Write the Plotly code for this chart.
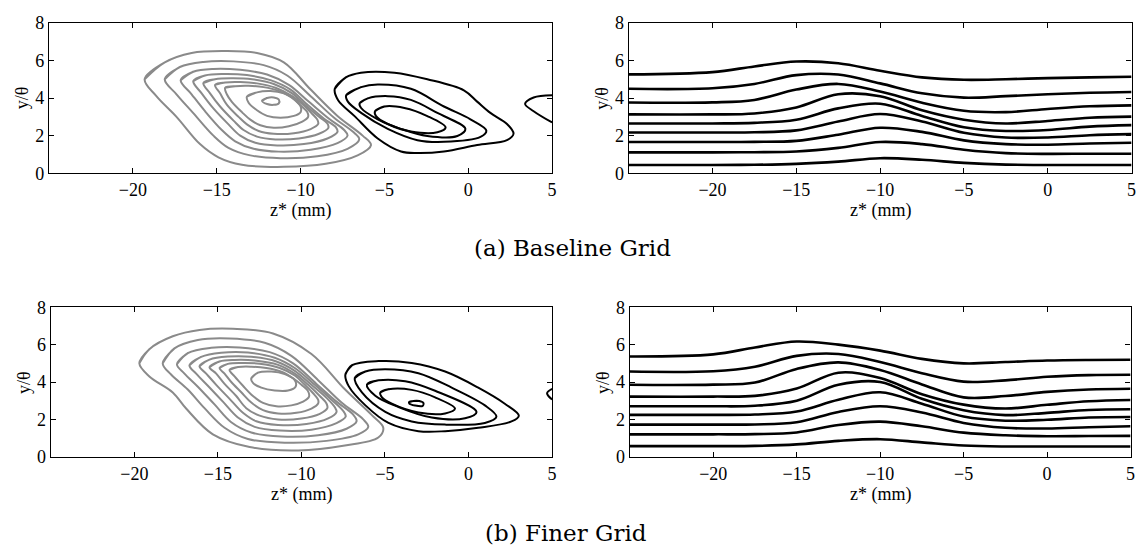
import plotly.graph_objects as go

W, H = 1147, 560

# ---------------------------------------------------------------------------
# Streamwise velocity contour lines (right panels): y/theta sampled at z* stations
# ---------------------------------------------------------------------------
Z_STATIONS = [-25, -20, -17.5, -15, -12.5, -10, -7.5, -5, -2.5, 0, 2.5, 5]

base_u_lines = [
    [5.26, 5.38, 5.68, 5.94, 5.85, 5.45, 5.10, 4.97, 5.00, 5.06, 5.10, 5.13],
    [4.49, 4.52, 4.75, 5.22, 5.25, 4.78, 4.25, 4.02, 4.10, 4.20, 4.28, 4.32],
    [3.76, 3.77, 3.90, 4.45, 4.75, 4.35, 3.75, 3.32, 3.25, 3.42, 3.56, 3.61],
    [3.13, 3.13, 3.18, 3.50, 4.20, 4.10, 3.35, 2.85, 2.65, 2.78, 2.95, 3.01],
    [2.65, 2.65, 2.68, 2.85, 3.45, 3.70, 3.05, 2.45, 2.25, 2.30, 2.48, 2.56],
    [2.17, 2.17, 2.18, 2.28, 2.75, 3.15, 2.75, 2.15, 1.90, 1.90, 2.02, 2.08],
    [1.66, 1.66, 1.67, 1.72, 2.05, 2.42, 2.20, 1.75, 1.55, 1.52, 1.58, 1.62],
    [1.11, 1.11, 1.12, 1.16, 1.35, 1.66, 1.55, 1.25, 1.07, 1.03, 1.04, 1.04],
    [0.44, 0.44, 0.45, 0.50, 0.62, 0.80, 0.72, 0.55, 0.46, 0.44, 0.44, 0.44],
]

fine_u_lines = [
    [5.37, 5.48, 5.85, 6.17, 6.00, 5.68, 5.24, 5.00, 5.07, 5.15, 5.18, 5.19],
    [4.56, 4.58, 4.82, 5.40, 5.50, 5.07, 4.47, 4.02, 4.09, 4.28, 4.37, 4.39],
    [3.85, 3.86, 3.97, 4.70, 5.05, 4.64, 3.87, 3.18, 3.25, 3.47, 3.60, 3.64],
    [3.22, 3.22, 3.26, 3.65, 4.50, 4.21, 3.35, 2.79, 2.58, 2.78, 2.97, 3.04],
    [2.70, 2.70, 2.73, 3.00, 3.85, 4.00, 3.10, 2.49, 2.23, 2.35, 2.50, 2.54],
    [2.24, 2.24, 2.26, 2.42, 3.05, 3.45, 2.84, 2.15, 1.93, 1.98, 2.10, 2.13],
    [1.72, 1.72, 1.73, 1.85, 2.40, 2.70, 2.37, 1.81, 1.55, 1.51, 1.58, 1.63],
    [1.20, 1.20, 1.21, 1.30, 1.70, 1.88, 1.63, 1.29, 1.15, 1.10, 1.11, 1.12],
    [0.57, 0.57, 0.58, 0.66, 0.85, 0.94, 0.77, 0.60, 0.55, 0.55, 0.55, 0.55],
]

# ---------------------------------------------------------------------------
# Streamwise vorticity contours (left panels): closed rings as (z*, y/theta)
# ---------------------------------------------------------------------------
base_gray_rings = [
    [(-19.3, 5.0), (-18.1, 5.9), (-16.5, 6.4), (-14.5, 6.5), (-12.6, 6.4), (-11.0, 5.9),
     (-9.4, 4.45), (-7.8, 3.05), (-6.3, 2.0), (-5.8, 1.5), (-6.6, 0.95), (-8.5, 0.5),
     (-11.0, 0.34), (-13.5, 0.45), (-14.9, 0.85), (-16.0, 1.55), (-17.4, 3.0), (-18.6, 4.1)],
    [(-18.1, 5.0), (-17.2, 5.65), (-15.8, 5.92), (-14.0, 5.95), (-12.2, 5.75), (-10.8, 5.2),
     (-9.4, 4.1), (-8.0, 2.95), (-6.8, 2.15), (-6.5, 1.8), (-7.2, 1.3), (-9.0, 0.9),
     (-11.2, 0.8), (-13.0, 0.95), (-14.3, 1.35), (-15.2, 2.0), (-16.4, 3.2), (-17.4, 4.2)],
    [(-17.15, 4.95), (-16.4, 5.4), (-15.2, 5.55), (-13.6, 5.5), (-12.0, 5.25), (-10.7, 4.7),
     (-9.5, 3.8), (-8.3, 2.9), (-7.4, 2.3), (-7.2, 2.0), (-7.8, 1.6), (-9.4, 1.25),
     (-11.3, 1.15), (-12.8, 1.3), (-13.9, 1.7), (-14.7, 2.3), (-15.7, 3.3), (-16.5, 4.2)],
    [(-16.4, 4.9), (-15.7, 5.2), (-14.6, 5.28), (-13.2, 5.22), (-11.8, 4.95), (-10.6, 4.45),
     (-9.6, 3.65), (-8.6, 2.9), (-7.9, 2.45), (-7.8, 2.2), (-8.4, 1.85), (-9.8, 1.55),
     (-11.4, 1.48), (-12.7, 1.62), (-13.6, 2.0), (-14.3, 2.6), (-15.2, 3.45), (-15.9, 4.25)],
    [(-15.8, 4.8), (-15.1, 5.0), (-14.1, 5.05), (-12.9, 5.0), (-11.6, 4.75), (-10.5, 4.25),
     (-9.7, 3.6), (-8.9, 3.0), (-8.4, 2.65), (-8.35, 2.4), (-8.9, 2.1), (-10.1, 1.85),
     (-11.5, 1.8), (-12.6, 1.95), (-13.4, 2.3), (-14.0, 2.8), (-14.8, 3.55), (-15.4, 4.25)],
    [(-15.1, 4.7), (-14.5, 4.83), (-13.6, 4.85), (-12.6, 4.78), (-11.5, 4.55), (-10.5, 4.1),
     (-9.8, 3.6), (-9.3, 3.15), (-9.0, 2.85), (-8.95, 2.62), (-9.4, 2.35), (-10.4, 2.13),
     (-11.6, 2.1), (-12.5, 2.25), (-13.2, 2.6), (-13.7, 3.0), (-14.4, 3.65), (-14.8, 4.25)],
    [(-14.5, 4.55), (-13.9, 4.63), (-13.1, 4.65), (-12.2, 4.58), (-11.3, 4.38), (-10.5, 4.0),
     (-10.0, 3.6), (-9.6, 3.25), (-9.55, 3.0), (-9.9, 2.75), (-10.7, 2.5), (-11.6, 2.42),
     (-12.4, 2.55), (-13.0, 2.85), (-13.5, 3.25), (-14.1, 3.8), (-14.4, 4.2)],
    [(-13.2, 4.07), (-12.6, 4.3), (-11.8, 4.37), (-11.0, 4.25), (-10.4, 3.95), (-10.0, 3.55),
     (-10.0, 3.25), (-10.4, 3.05), (-11.2, 2.95), (-12.0, 3.05), (-12.6, 3.35), (-13.1, 3.75)],
    [(-12.3, 3.85), (-12.0, 4.0), (-11.6, 4.03), (-11.3, 3.92), (-11.3, 3.72), (-11.6, 3.64),
     (-12.0, 3.68)],
]

base_black_rings = [
    [(-7.96, 4.49), (-7.3, 5.1), (-6.4, 5.35), (-4.4, 5.35), (-2.44, 5.0), (-0.26, 4.41),
     (0.53, 3.81), (1.32, 3.21), (2.31, 2.62), (2.7, 2.1), (2.31, 1.76), (0.53, 1.5),
     (-1.45, 1.16), (-3.03, 1.08), (-4.01, 1.16), (-5.4, 1.85), (-6.78, 3.04), (-7.77, 3.9)],
    [(-7.28, 4.15), (-6.39, 4.58), (-5.4, 4.72), (-3.42, 4.49), (-1.45, 3.55), (0.13, 2.87),
     (1.08, 2.27), (0.73, 1.93), (-1.45, 1.67), (-3.03, 1.76), (-4.8, 2.36), (-6.39, 3.21),
     (-7.18, 3.81)],
    [(-6.48, 3.72), (-5.99, 3.98), (-4.8, 4.1), (-3.42, 3.9), (-1.84, 3.21), (-0.17, 2.36),
     (-0.65, 1.98), (-2.44, 1.98), (-4.01, 2.36), (-5.4, 2.87), (-6.39, 3.47)],
    [(-5.56, 3.3), (-5.0, 3.55), (-3.81, 3.47), (-2.44, 3.04), (-1.35, 2.44), (-1.84, 2.18),
     (-3.42, 2.22), (-4.8, 2.62), (-5.5, 3.04)],
]
base_black_edge = [(5.0, 4.15), (3.9, 4.03), (3.39, 3.69), (3.9, 3.3), (5.0, 2.7)]

fine_gray_rings = [
    [(-19.7, 5.0), (-19.1, 5.76), (-17.7, 6.45), (-16.1, 6.79), (-14.1, 6.85), (-11.7, 6.6),
     (-9.4, 5.5), (-7.4, 3.61), (-5.8, 2.24), (-5.1, 1.55), (-5.4, 1.03), (-7.4, 0.6),
     (-10.2, 0.34), (-13.1, 0.52), (-15.3, 1.2), (-16.9, 2.58), (-17.7, 3.44), (-19.1, 4.3)],
    [(-18.3, 5.0), (-17.6, 5.8), (-16.2, 6.25), (-14.3, 6.33), (-12.2, 6.1), (-10.6, 5.4),
     (-9.0, 4.1), (-7.6, 2.9), (-6.3, 2.0), (-6.0, 1.6), (-6.6, 1.2), (-8.5, 0.85),
     (-11.0, 0.75), (-13.2, 0.95), (-14.6, 1.55), (-15.8, 2.6), (-16.8, 3.6), (-17.8, 4.4)],
    [(-17.45, 4.95), (-16.8, 5.55), (-15.4, 5.83), (-13.7, 5.85), (-11.9, 5.6), (-10.5, 5.0),
     (-9.1, 3.9), (-7.9, 2.95), (-6.9, 2.25), (-6.7, 1.9), (-7.3, 1.5), (-9.0, 1.15),
     (-11.2, 1.08), (-13.0, 1.3), (-14.2, 1.85), (-15.2, 2.8), (-16.2, 3.75), (-17.0, 4.45)],
    [(-16.7, 4.9), (-16.0, 5.35), (-14.8, 5.57), (-13.2, 5.58), (-11.6, 5.3), (-10.4, 4.75),
     (-9.2, 3.85), (-8.2, 3.05), (-7.5, 2.45), (-7.35, 2.15), (-7.9, 1.8), (-9.4, 1.45),
     (-11.3, 1.4), (-12.8, 1.6), (-13.8, 2.1), (-14.7, 2.95), (-15.6, 3.8), (-16.3, 4.45)],
    [(-16.1, 4.85), (-15.5, 5.2), (-14.4, 5.36), (-13.0, 5.35), (-11.5, 5.1), (-10.4, 4.6),
     (-9.4, 3.85), (-8.5, 3.15), (-8.0, 2.65), (-7.9, 2.4), (-8.4, 2.05), (-9.7, 1.75),
     (-11.4, 1.7), (-12.7, 1.9), (-13.5, 2.35), (-14.3, 3.1), (-15.1, 3.85), (-15.7, 4.45)],
    [(-15.5, 4.8), (-14.9, 5.1), (-14.0, 5.18), (-12.8, 5.15), (-11.4, 4.92), (-10.4, 4.45),
     (-9.6, 3.85), (-8.9, 3.25), (-8.5, 2.85), (-8.45, 2.6), (-8.9, 2.3), (-10.0, 2.05),
     (-11.4, 2.0), (-12.5, 2.2), (-13.3, 2.6), (-13.9, 3.25), (-14.6, 3.9), (-15.1, 4.45)],
    [(-14.9, 4.75), (-14.4, 4.97), (-13.6, 5.02), (-12.5, 4.98), (-11.3, 4.75), (-10.4, 4.35),
     (-9.8, 3.85), (-9.3, 3.4), (-9.0, 3.05), (-9.0, 2.85), (-9.4, 2.58), (-10.3, 2.35),
     (-11.4, 2.32), (-12.3, 2.5), (-13.0, 2.9), (-13.6, 3.45), (-14.2, 4.0), (-14.6, 4.45)],
    [(-14.3, 4.65), (-13.8, 4.8), (-13.0, 4.82), (-12.1, 4.75), (-11.2, 4.55), (-10.5, 4.2),
     (-10.0, 3.85), (-9.6, 3.5), (-9.55, 3.2), (-9.9, 2.95), (-10.6, 2.75), (-11.5, 2.7),
     (-12.3, 2.88), (-12.9, 3.25), (-13.5, 3.8), (-14.0, 4.3)],
    [(-13.0, 4.2), (-12.6, 4.5), (-11.8, 4.56), (-11.0, 4.42), (-10.4, 4.1), (-10.35, 3.75),
     (-10.8, 3.55), (-11.6, 3.55), (-12.4, 3.7), (-12.9, 3.95)],
]

fine_black_rings = [
    [(-7.37, 4.39), (-6.97, 4.9), (-5.38, 5.12), (-3.4, 5.02), (-1.4, 4.56), (0.58, 3.7),
     (2.17, 2.84), (3.01, 2.2), (2.57, 1.89), (0.58, 1.55), (-1.4, 1.37), (-3.0, 1.37),
     (-4.79, 1.81), (-6.17, 2.75), (-7.17, 3.78)],
    [(-6.81, 4.21), (-6.17, 4.56), (-4.98, 4.68), (-3.0, 4.47), (-1.01, 3.7), (0.98, 2.75),
     (1.67, 2.15), (0.98, 1.81), (-1.4, 1.72), (-3.4, 1.89), (-4.98, 2.4), (-6.38, 3.44)],
    [(-6.08, 3.87), (-5.38, 4.09), (-3.79, 4.04), (-2.0, 3.53), (0.48, 2.4), (-0.21, 2.06),
     (-2.2, 2.1), (-4.19, 2.66), (-5.58, 3.27)],
    [(-5.28, 3.44), (-4.79, 3.61), (-3.4, 3.58), (-2.0, 3.18), (-0.81, 2.58), (-1.4, 2.32),
     (-3.0, 2.37), (-4.59, 2.84), (-5.18, 3.18)],
    [(-3.55, 2.93), (-3.1, 3.0), (-2.7, 2.88), (-2.75, 2.72), (-3.2, 2.74), (-3.55, 2.85)],
]
fine_black_edge = [(5.0, 3.63), (4.7, 3.4), (5.0, 3.06)]

X_TICKS = [-20, -15, -10, -5, 0, 5]
X_TICK_TEXT = ["\u221220", "\u221215", "\u221210", "\u22125", "0", "5"]
Y_TICKS = [0, 2, 4, 6, 8]
CAPTIONS = ["(a) Baseline Grid", "(b) Finer Grid"]

GRAY = "#8a8a8a"
SERIF = '"Liberation Serif", "Times New Roman", Times, serif'
TICK_FONT = dict(family=SERIF, size=18, color="black")


def closed(ring):
    """Close a ring and overlap one segment so the spline joins smoothly."""
    pts = list(ring) + list(ring[:2])
    return [p[0] for p in pts], [p[1] for p in pts]


fig = go.Figure()

# panel pixel boxes: (left, right, top, bottom)
panels = {
    1: (49.3, 554.5, 13.3, 169.3),
    2: (631.4, 1136.5, 13.3, 169.3),
    3: (51.0, 554.5, 308.3, 463.3),
    4: (632.5, 1135.5, 308.3, 463.3),
}


def add_rings(rings, color, idx, width=2.0):
    ax = "" if idx == 1 else str(idx)
    for ring in rings:
        xs, ys = closed(ring)
        fig.add_trace(go.Scatter(
            x=xs, y=ys, mode="lines", xaxis="x" + ax, yaxis="y" + ax,
            line=dict(color=color, width=width, shape="spline", smoothing=1.0),
            showlegend=False, hoverinfo="skip"))


def add_open(pts, color, idx, width=2.0):
    ax = "" if idx == 1 else str(idx)
    fig.add_trace(go.Scatter(
        x=[p[0] for p in pts], y=[p[1] for p in pts], mode="lines",
        xaxis="x" + ax, yaxis="y" + ax,
        line=dict(color=color, width=width, shape="spline", smoothing=1.0),
        showlegend=False, hoverinfo="skip"))


def add_profiles(lines, idx):
    ax = "" if idx == 1 else str(idx)
    for ys in lines:
        fig.add_trace(go.Scatter(
            x=Z_STATIONS, y=ys, mode="lines", xaxis="x" + ax, yaxis="y" + ax,
            line=dict(color="black", width=2.6, shape="spline", smoothing=1.0),
            showlegend=False, hoverinfo="skip"))


add_rings(base_gray_rings, GRAY, 1)
add_rings(base_black_rings, "black", 1)
add_open(base_black_edge, "black", 1)
add_profiles(base_u_lines, 2)
add_rings(fine_gray_rings, GRAY, 3)
add_rings(fine_black_rings, "black", 3)
add_open(fine_black_edge, "black", 3)
add_profiles(fine_u_lines, 4)

layout = dict(
    width=W, height=H, margin=dict(l=0, r=0, t=0, b=0),
    paper_bgcolor="white", plot_bgcolor="white", showlegend=False,
)

annotations = []
for idx, (l, r, t, b) in panels.items():
    ax = "" if idx == 1 else str(idx)
    layout["xaxis" + ax] = dict(
        domain=[l / W, r / W], range=[-25, 5], anchor="y" + ax,
        tickvals=X_TICKS, ticktext=X_TICK_TEXT, ticks="inside", ticklen=5,
        tickwidth=1, tickcolor="black", showline=True, linecolor="black",
        linewidth=1.3, mirror="ticks", showgrid=False, zeroline=False,
        tickfont=TICK_FONT, fixedrange=True,
    )
    layout["yaxis" + ax] = dict(
        domain=[1 - b / H, 1 - t / H], range=[0, 8], anchor="x" + ax,
        tickvals=Y_TICKS, ticks="inside", ticklen=5, tickwidth=1,
        tickcolor="black", showline=True, linecolor="black", linewidth=1.3,
        mirror="ticks", showgrid=False, zeroline=False, tickfont=TICK_FONT,
        fixedrange=True,
    )
    cx = (l + r) / 2
    annotations.append(dict(
        text="z* (mm)", x=cx / W, y=1 - (b + 39) / H, xref="paper", yref="paper",
        showarrow=False, font=dict(family=SERIF, size=18, color="black"),
        xanchor="center", yanchor="middle"))
    annotations.append(dict(
        text="y/\u03b8", x=(l - 27) / W, y=1 - ((t + b) / 2) / H, xref="paper",
        yref="paper", showarrow=False, textangle=-90,
        font=dict(family=SERIF, size=18, color="black"),
        xanchor="center", yanchor="middle"))

annotations.append(dict(
    text=CAPTIONS[0], x=575 / W, y=1 - 247 / H, xref="paper", yref="paper",
    showarrow=False, font=dict(family="DejaVu Serif", size=23, color="black"),
    xanchor="center", yanchor="middle"))
annotations.append(dict(
    text=CAPTIONS[1], x=568 / W, y=1 - 542 / H, xref="paper", yref="paper",
    showarrow=False, font=dict(family="DejaVu Serif", size=23, color="black"),
    xanchor="center", yanchor="middle"))

layout["annotations"] = annotations
fig.update_layout(**layout)
fig.write_html("out.html")
